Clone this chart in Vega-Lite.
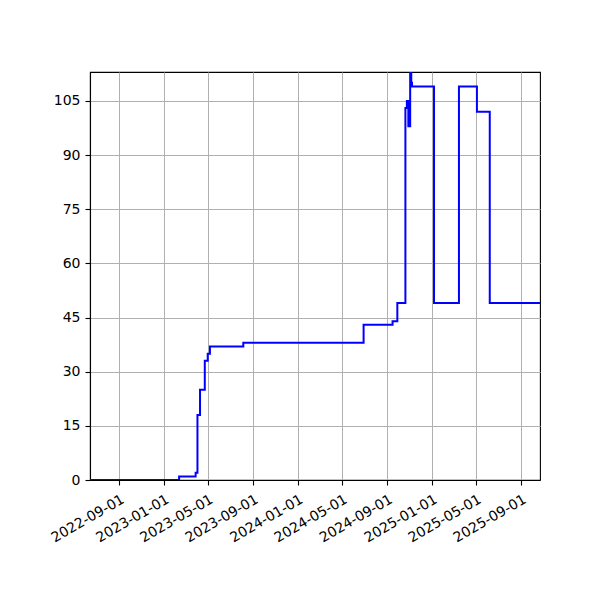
{
  "$schema": "https://vega.github.io/schema/vega-lite/v6.json",
  "width": 450,
  "height": 408,
  "autosize": {"type": "none"},
  "padding": {"left": 90, "top": 72, "right": 60, "bottom": 120},
  "background": "white",
  "config": {
    "view": {"stroke": "black", "strokeWidth": 1.1},
    "axis": {
      "grid": true,
      "gridColor": "#b0b0b0",
      "gridWidth": 1,
      "domainColor": "black",
      "domainWidth": 1.1,
      "tickColor": "black",
      "tickSize": 5,
      "tickWidth": 1.1,
      "labelFont": "DejaVu Sans",
      "labelFontSize": 14,
      "labelColor": "black",
      "labelPadding": 5,
      "labelOverlap": false,
      "title": null
    }
  },
  "data": {
    "values": [
      {"date": "2022-06-13", "value": 0},
      {"date": "2023-02-11", "value": 1},
      {"date": "2023-03-28", "value": 2},
      {"date": "2023-04-02", "value": 18},
      {"date": "2023-04-09", "value": 25},
      {"date": "2023-04-22", "value": 33},
      {"date": "2023-04-30", "value": 35},
      {"date": "2023-05-06", "value": 37},
      {"date": "2023-08-05", "value": 38},
      {"date": "2024-06-28", "value": 43},
      {"date": "2024-09-15", "value": 44},
      {"date": "2024-09-28", "value": 49},
      {"date": "2024-10-20", "value": 103},
      {"date": "2024-10-24", "value": 105},
      {"date": "2024-10-28", "value": 98},
      {"date": "2024-11-02", "value": 113},
      {"date": "2024-11-05", "value": 110},
      {"date": "2024-11-07", "value": 109},
      {"date": "2025-01-06", "value": 49},
      {"date": "2025-03-15", "value": 109},
      {"date": "2025-05-03", "value": 102},
      {"date": "2025-06-07", "value": 49},
      {"date": "2025-10-22", "value": 49}
    ]
  },
  "mark": {"type": "line", "interpolate": "step-after", "color": "#0000ff", "strokeWidth": 2, "clip": true},
  "encoding": {
    "x": {
      "field": "date",
      "type": "temporal",
      "scale": {
        "type": "utc",
        "nice": false,
        "domain": [
          {"year": 2022, "month": 6, "date": 13, "utc": true},
          {"year": 2025, "month": 10, "date": 22, "utc": true}
        ]
      },
      "axis": {
        "values": [
          {"year": 2022, "month": 9, "date": 1, "utc": true},
          {"year": 2023, "month": 1, "date": 1, "utc": true},
          {"year": 2023, "month": 5, "date": 1, "utc": true},
          {"year": 2023, "month": 9, "date": 1, "utc": true},
          {"year": 2024, "month": 1, "date": 1, "utc": true},
          {"year": 2024, "month": 5, "date": 1, "utc": true},
          {"year": 2024, "month": 9, "date": 1, "utc": true},
          {"year": 2025, "month": 1, "date": 1, "utc": true},
          {"year": 2025, "month": 5, "date": 1, "utc": true},
          {"year": 2025, "month": 9, "date": 1, "utc": true}
        ],
        "labelExpr": "utcFormat(datum.value, '%Y-%m-%d')",
        "labelAngle": -30,
        "labelAlign": "right",
        "labelBaseline": "top",
        "labelPadding": 7
      }
    },
    "y": {
      "field": "value",
      "type": "quantitative",
      "scale": {"domain": [0, 113], "nice": false},
      "axis": {"values": [0, 15, 30, 45, 60, 75, 90, 105]}
    }
  }
}
